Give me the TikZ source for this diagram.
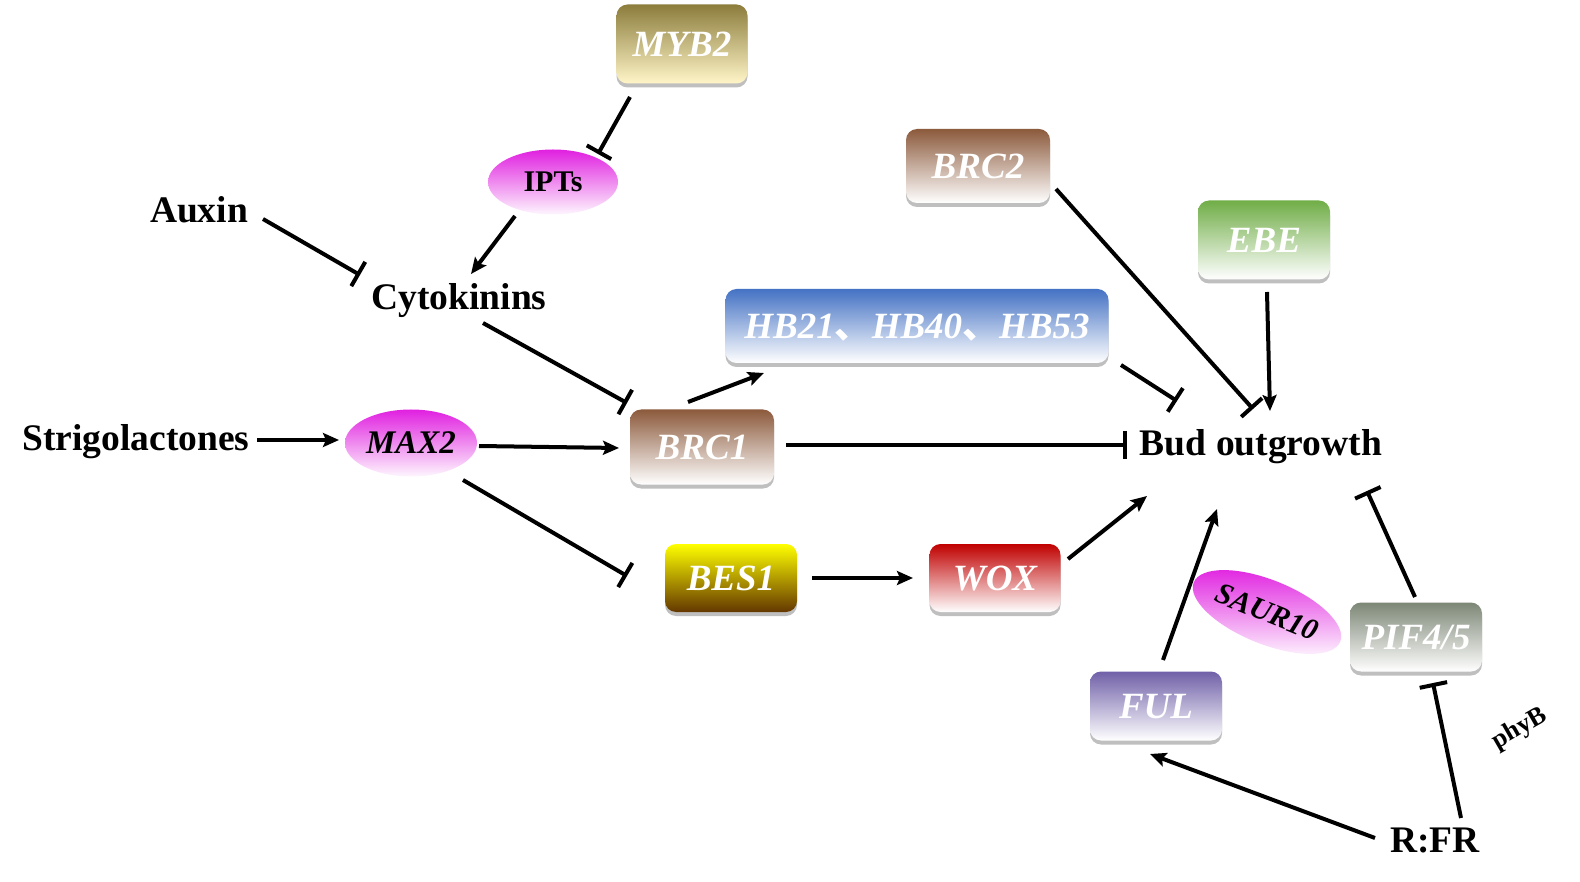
\documentclass[tikz,border=0pt]{standalone}
\usepackage{fontspec}
\setmainfont{Liberation Serif}
\newfontfamily\cjk{Noto Sans CJK SC}
\usetikzlibrary{shapes.geometric,shadows,arrows.meta,calc}
\begin{document}
\begin{tikzpicture}[x=1pt,y=-1pt,
  big/.style={font=\fontsize{37.5}{40}\selectfont\bfseries},
  lbl/.style={big,text=black,inner sep=0pt},
  genebox/.style={font=\fontsize{37}{40}\selectfont\bfseries\itshape,text=white,
     rounded corners=11pt,inner sep=0pt,bottom color=white,text depth=0pt,
     drop shadow={shadow xshift=0pt,shadow yshift=-4pt,opacity=0.25,fill=black}},
  oval/.style={ellipse,inner sep=0pt,top color=mag,middle color=mag!92!white,bottom color=mag!4!white},
  act/.style={line width=4pt,-{Stealth[length=16pt,width=14pt,inset=3pt]}},
  inh/.style={line width=4pt,-{Bar[width=28pt]}}]
\definecolor{mag}{RGB}{224,32,224}
\definecolor{olive}{RGB}{140,125,60}
\definecolor{cream}{RGB}{255,245,200}
\definecolor{hbblue}{RGB}{68,114,196}
\definecolor{brcbrown}{RGB}{140,90,60}
\definecolor{besyellow}{RGB}{255,255,0}
\definecolor{besbrown}{RGB}{100,55,0}
\definecolor{woxred}{RGB}{192,0,0}
\definecolor{ebegreen}{RGB}{112,173,71}
\definecolor{fulpurple}{RGB}{112,96,168}
\definecolor{pifgray}{RGB}{125,135,118}
\useasboundingbox (0,0) rectangle (1580,882);

% gene boxes
\node[genebox,top color=olive,bottom color=cream,minimum width=131pt,minimum height=79pt] (myb2) at (682,44) {MYB2};
\node[genebox,top color=hbblue,minimum width=383pt,minimum height=74pt] (hb) at (917,326) {HB21{\cjk\upshape 、}HB40{\cjk\upshape 、}HB53};
\node[genebox,top color=brcbrown,minimum width=144pt,minimum height=75pt] (brc1) at (702,447) {BRC1};
\node[genebox,top color=besyellow,bottom color=besbrown,minimum width=132pt,minimum height=68pt] (bes1) at (731,578) {BES1};
\node[genebox,top color=woxred,minimum width=131pt,minimum height=68pt] (wox) at (995,578) {WOX};
\node[genebox,top color=pifgray,minimum width=132pt,minimum height=69pt] (pif) at (1416,637) {PIF4/5};
\node[genebox,top color=fulpurple,minimum width=132pt,minimum height=69pt] (ful) at (1156,706) {FUL};
\node[genebox,top color=brcbrown,minimum width=144pt,minimum height=74pt] (brc2) at (978,166) {BRC2};
\node[genebox,top color=ebegreen,minimum width=132pt,minimum height=79pt] (ebe) at (1264,240) {EBE};

% ovals
\node[oval,minimum width=130pt,minimum height=65pt,font=\fontsize{30}{34}\selectfont\bfseries] (ipts) at (553,182) {IPTs};
\node[oval,minimum width=132pt,minimum height=67pt,font=\fontsize{33}{36}\selectfont\bfseries\itshape] (max2) at (411,443) {MAX2};
\node[oval,minimum width=158pt,minimum height=64pt,rotate=-22,font=\fontsize{30}{34}\selectfont\bfseries\itshape] (saur) at (1267,612) {SAUR10};

% plain labels
\node[lbl] (auxin) at (199,210) {Auxin};
\node[lbl] (cyto) at (459,301) {Cytokinins};
\node[lbl] (strigo) at (136,442) {Strigolactones};
\node[lbl] (bud) at (1261,447) {Bud outgrowth};
\node[lbl] (rfr) at (1435,840) {R:FR};
\node[lbl,font=\fontsize{26}{30}\selectfont\bfseries,rotate=30] (phyb) at (1520,729) {phyB};

% connectors
\draw[inh] ($(myb2)+(-52,53)$) -- ($(ipts)+(45,-28)$);
\draw[act] ($(ipts)+(-38,34)$) -- ($(cyto)+(12,-27)$);
\draw[inh] ($(auxin)+(64,9)$) -- ($(cyto)+(-99,-26)$);
\draw[inh] ($(cyto)+(24,22)$) -- ($(brc1)+(-75,-44)$);
\draw[act] ($(strigo)+(121,-2)$) -- ($(max2)+(-72,-3)$);
\draw[act] ($(max2)+(68,3)$) -- ($(brc1)+(-83,1)$);
\draw[inh] ($(max2)+(52,37)$) -- ($(bes1)+(-104,-2)$);
\draw[act] ($(brc1)+(-14,-45)$) -- ($(hb)+(-153,47)$);
\draw[inh] ($(brc1)+(84,-2)$) -- ($(bud)+(-134,-2)$);
\draw[inh] ($(hb)+(204,39)$) -- ($(bud)+(-84,-46)$);
\draw[inh] ($(brc2)+(78,23)$) -- ($(bud)+(-8,-38)$);
\draw[act] ($(ebe)+(3,52)$) -- ($(bud)+(9,-36)$);
\draw[act] ($(bes1)+(81,0)$) -- ($(wox)+(-82,0)$);
\draw[act] ($(wox)+(73,-19)$) -- ($(bud)+(-114,49)$);
\draw[act] ($(ful)+(7,-46)$) -- ($(bud)+(-44,62)$);
\draw[inh] ($(pif)+(-1,-40)$) -- ($(bud)+(106,44)$);
\draw[inh] ($(rfr)+(26,-22)$) -- ($(pif)+(17,46)$);
\draw[act] ($(rfr)+(-60,-2)$) -- ($(ful)+(-6,48)$);
\end{tikzpicture}
\end{document}
